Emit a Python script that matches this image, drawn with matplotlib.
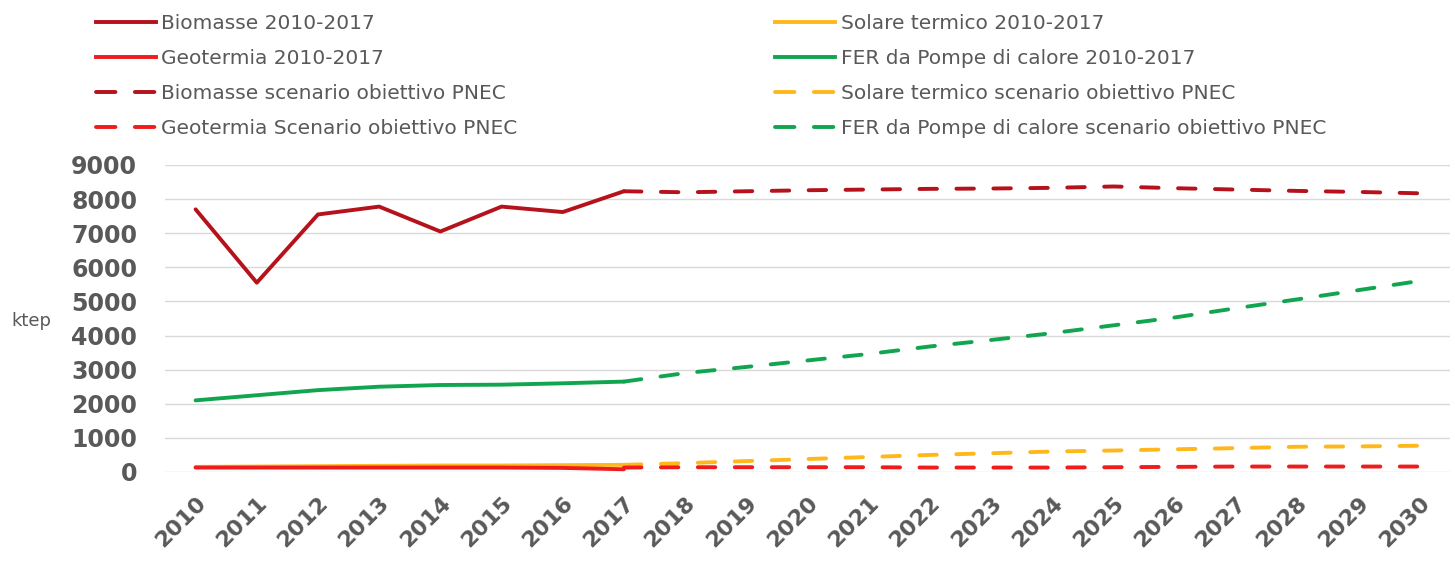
import numpy as np
import matplotlib.pyplot as plt
from matplotlib.lines import Line2D

years_hist = list(range(2010, 2018))
years_pnec = list(range(2017, 2031))
all_years = list(range(2010, 2031))

# storico 2010-2017 (ktep)
biomasse_hist = [7700, 5550, 7550, 7780, 7050, 7780, 7620, 8230]
geotermia_hist = [130, 130, 130, 130, 130, 130, 120, 80]
solare_hist = [150, 160, 170, 180, 190, 190, 200, 210]
pompe_hist = [2100, 2250, 2400, 2500, 2550, 2560, 2600, 2650]

# scenario obiettivo PNEC 2017-2030
biomasse_pnec = [8230, 8200, 8230, 8260, 8280, 8300, 8310, 8330, 8370,
                 8320, 8280, 8240, 8210, 8170]
geotermia_pnec = [130, 140, 140, 140, 140, 130, 130, 130, 140,
                  150, 160, 160, 160, 160]
solare_pnec = [210, 260, 320, 380, 440, 500, 550, 600, 630,
               665, 700, 740, 750, 770]
pompe_pnec = [2650, 2900, 3080, 3270, 3460, 3680, 3870, 4070, 4300,
              4530, 4800, 5060, 5330, 5600]

C_BIO = '#B5121B'
C_GEO = '#EE1C1C'
C_SOL = '#FFB81C'
C_FER = '#12A550'
TXT = '#595959'

fig = plt.figure(figsize=(14.55, 5.83), dpi=100)
ax = fig.add_axes([0.1134, 0.1904, 0.8832, 0.5266])

lw = 2.8
dash = (4.5, 5)

ax.plot(years_hist, solare_hist, color=C_SOL, lw=lw, solid_capstyle='round')
ax.plot(years_hist, geotermia_hist, color=C_GEO, lw=lw, solid_capstyle='round')
ax.plot(years_hist, pompe_hist, color=C_FER, lw=lw, solid_capstyle='round')
ax.plot(years_hist, biomasse_hist, color=C_BIO, lw=lw, solid_capstyle='round')

for vals, col in [(solare_pnec, C_SOL), (geotermia_pnec, C_GEO),
                  (pompe_pnec, C_FER), (biomasse_pnec, C_BIO)]:
    ax.plot(years_pnec, vals, color=col, lw=lw, linestyle=(0, dash),
            dash_capstyle='round')

ax.set_xlim(2009.5, 2030.5)
ax.set_ylim(0, 9000)
ax.set_yticks(np.arange(0, 9001, 1000))
ax.set_xticks(all_years)
ax.set_xticklabels([str(y) for y in all_years], rotation=45, ha='right',
                   rotation_mode='anchor')
ax.yaxis.grid(True, color='#D9D9D9', lw=1)
ax.set_axisbelow(True)
for s in ax.spines.values():
    s.set_visible(False)
ax.tick_params(axis='y', length=0, labelsize=17, labelcolor=TXT, pad=20)
ax.tick_params(axis='x', length=0, labelsize=16, labelcolor=TXT, pad=15)
for lab in ax.get_xticklabels() + ax.get_yticklabels():
    lab.set_fontweight('bold')

fig.text(0.008, 0.45, 'ktep', fontsize=13, color=TXT, va='center')

def handle(col, dashed):
    if dashed:
        return Line2D([], [], color=col, lw=lw, linestyle=(0, (5, 5)),
                      dash_capstyle='round')
    return Line2D([], [], color=col, lw=lw)

left = [(handle(C_BIO, False), 'Biomasse 2010-2017'),
        (handle(C_GEO, False), 'Geotermia 2010-2017'),
        (handle(C_BIO, True), 'Biomasse scenario obiettivo PNEC'),
        (handle(C_GEO, True), 'Geotermia Scenario obiettivo PNEC')]
right = [(handle(C_SOL, False), 'Solare termico 2010-2017'),
         (handle(C_FER, False), 'FER da Pompe di calore 2010-2017'),
         (handle(C_SOL, True), 'Solare termico scenario obiettivo PNEC'),
         (handle(C_FER, True), 'FER da Pompe di calore scenario obiettivo PNEC')]

for items, x0 in [(left, 0.056), (right, 0.523)]:
    leg = fig.legend([h for h, _ in items], [t for _, t in items],
                     loc='upper left', bbox_to_anchor=(x0, 1.0),
                     frameon=False, fontsize=14.5, handlelength=3.0,
                     handletextpad=0.25, labelspacing=0.8, borderpad=0.2)
    for t in leg.get_texts():
        t.set_color(TXT)

fig.savefig('out.png', dpi=100)
